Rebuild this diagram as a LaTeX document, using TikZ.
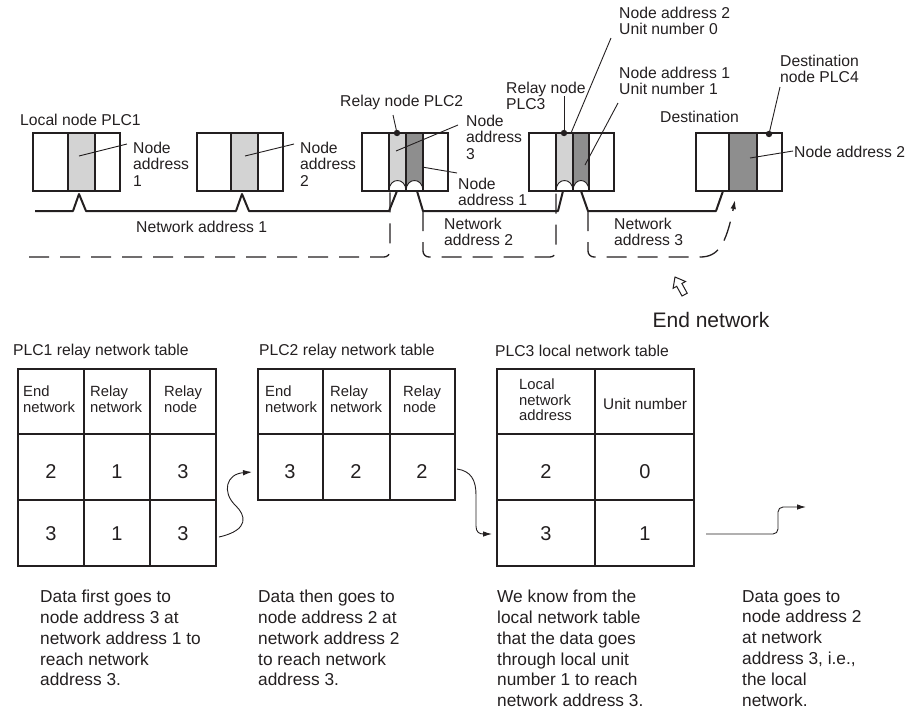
\documentclass[tikz,border=0pt]{standalone}
\usepackage{fontspec}
\setmainfont{Liberation Sans}
\usetikzlibrary{arrows.meta}
\definecolor{lg}{HTML}{D3D3D3}
\definecolor{dg}{HTML}{8E8E8E}
\definecolor{ink}{HTML}{231F20}
\begin{document}
\begin{tikzpicture}[x=1pt,y=-1pt,
  lab/.style={inner sep=0pt, anchor=west, align=left, text=ink, font=\fontsize{15.7}{16.5}\selectfont},
  bot/.style={inner sep=0pt, anchor=north west, align=left, text=ink, font=\fontsize{17.3}{20.8}\selectfont},
  hdr/.style={inner sep=0pt, anchor=west, align=left, text=ink, font=\fontsize{14.8}{15.6}\selectfont},
  num/.style={inner sep=0pt, text=ink, font=\fontsize{20}{24}\selectfont},
  box/.style={draw=ink, line width=1.2pt},
  net/.style={draw=ink, line width=2pt, line join=round},
  lead/.style={draw=ink, line width=0.9pt},
  route/.style={draw=ink, line width=1.3pt, dash pattern=on 20pt off 11pt, rounded corners=6pt},
  tbl/.style={draw=ink, line width=1.3pt},
  tip/.style={-{Latex[length=9pt,width=5.5pt]}},
  dot/.style={fill=ink}
]
\useasboundingbox (0,0) rectangle (916,716);

% ---------- PLC units ----------
% PLC1
\fill[lg] (68,133) rectangle (95,191);
\draw[box] (33,133) rectangle (120,191);
\draw[box] (68,133) -- (68,191) (95,133) -- (95,191);
% PLC (node address 2)
\fill[lg] (231,133) rectangle (258,191);
\draw[box] (197,133) rectangle (283,191);
\draw[box] (231,133) -- (231,191) (258,133) -- (258,191);
% Relay PLC2
\fill[lg] (389,133) rectangle (406,191);
\fill[dg] (406,133) rectangle (423,191);
\fill[white] (389,191) .. controls (389,177) and (406,177) .. (406,191) -- cycle;
\fill[white] (406,191) .. controls (406,177) and (423,177) .. (423,191) -- cycle;
\draw[box] (362,133) rectangle (448,191);
\draw[box] (389,133) -- (389,191) (406,133) -- (406,191) (423,133) -- (423,191);
\draw[lead] (389,191) .. controls (389,177) and (406,177) .. (406,191);
\draw[lead] (406,191) .. controls (406,177) and (423,177) .. (423,191);
% Relay PLC3
\fill[lg] (556,133) rectangle (573,191);
\fill[dg] (573,133) rectangle (589,191);
\fill[white] (556,191) .. controls (556,177) and (573,177) .. (573,191) -- cycle;
\fill[white] (573,191) .. controls (573,177) and (589,177) .. (589,191) -- cycle;
\draw[box] (529,133) rectangle (614,191);
\draw[box] (556,133) -- (556,191) (573,133) -- (573,191) (589,133) -- (589,191);
\draw[lead] (556,191) .. controls (556,177) and (573,177) .. (573,191);
\draw[lead] (573,191) .. controls (573,177) and (589,177) .. (589,191);
% Destination PLC4
\fill[dg] (729,133) rectangle (757,191);
\draw[box] (696,133) rectangle (782,191);
\draw[box] (729,133) -- (729,191) (757,133) -- (757,191);

% ---------- network lines ----------
\draw[net] (35,211) -- (73,211) -- (79,194) -- (86,211) -- (236,211) -- (242,194) -- (249,211) -- (389,211) -- (397,191);
\draw[net] (417,191) -- (423,211) -- (558,211) -- (563,191);
\draw[net] (581,191) -- (588,211) -- (716,211) -- (723,191);

% ---------- data route (dashed) ----------
\draw[route] (29,257) -- (390,257) -- (390,191);
\draw[route] (423,211) -- (423,257) -- (556,257) -- (556,191);
\draw[route] (588,211) -- (588,257) -- (700,257);
\draw[draw=ink, line width=1.3pt, dash pattern=on 20pt off 11pt, tip] (700,257) .. controls (718,257) and (726,245) .. (735,200);

% ---------- dots ----------
\fill[dot] (397,133) circle[radius=3.2pt];
\fill[dot] (564,133) circle[radius=3.2pt];
\fill[dot] (769,134) circle[radius=3.2pt];

% ---------- leaders ----------
\draw[lead] (79,156) -- (127,144);
\draw[lead] (245,156) -- (294,144);
\draw[lead] (393,115) -- (397,133);
\draw[lead] (396,151) -- (458,125);
\draw[lead] (422,167) -- (457,173);
\draw[lead] (564,96) -- (564,133);
\draw[lead] (571,133) -- (611,38);
\draw[lead] (585,165) -- (618,103);
\draw[lead] (769,134) -- (780,87);
\draw[lead] (750,158) -- (793,151);

% ---------- top labels ----------
\node[lab] (l1) at (20,120) {Local node PLC1};
\node[lab] (na1) at (133,164) {Node\\address\\1};
\node[lab] (na2) at (300,164) {Node\\address\\2};
\node[lab] (rp2) at (340,102) {Relay node PLC2};
\node[lab] (na3) at (466,137) {Node\\address\\3};
\node[lab] (na1b) at (458,192) {Node\\address 1};
\node[lab] (rp3) at (506,96) {Relay node\\PLC3};
\node[lab] (u0) at (619,21) {Node address 2\\Unit number 0};
\node[lab] (u1) at (619,81) {Node address 1\\Unit number 1};
\node[lab] (dn) at (780,69) {Destination\\node PLC4};
\node[lab] (dst) at (660,117) {Destination};
\node[lab] (na2d) at (794,152) {Node address 2};
\node[lab] (nw1) at (136,227) {Network address 1};
\node[lab] (nw2) at (444,232) {Network\\address 2};
\node[lab] (nw3) at (614,232) {Network\\address 3};

% ---------- End network arrow ----------
\draw[draw=ink, line width=1pt, line join=miter, fill=white]
  (675,277) -- (685.5,281.5) -- (681.9,283.5) -- (687.2,293.2) -- (682.0,296.0) -- (676.7,286.3) -- (673.1,288.3) -- cycle;
\node[inner sep=0pt, text=ink, font=\fontsize{21}{24}\selectfont] (en) at (711,320) {End network};

% ---------- tables ----------
\node[lab] (t1) at (13,351) {PLC1 relay network table};
\node[lab] (t2) at (259,351) {PLC2 relay network table};
\node[lab] (t3) at (495,351) {PLC3 local network table};

% table 1
\draw[tbl] (18,369) rectangle (216,566);
\draw[tbl] (84,369) -- (84,566) (150,369) -- (150,566) (18,434) -- (216,434) (18,500) -- (216,500);
\node[hdr] at (23,399) {End\\network};
\node[hdr] at (90,399) {Relay\\network};
\node[hdr] at (164,399) {Relay\\node};
\node[num] at (51,472) {2};
\node[num] at (117,472) {1};
\node[num] at (183,472) {3};
\node[num] at (51,534) {3};
\node[num] at (117,534) {1};
\node[num] at (183,534) {3};

% table 2
\draw[tbl] (258,369) rectangle (455,500);
\draw[tbl] (323,369) -- (323,500) (390,369) -- (390,500) (258,434) -- (455,434);
\node[hdr] at (265,399) {End\\network};
\node[hdr] at (330,399) {Relay\\network};
\node[hdr] at (403,399) {Relay\\node};
\node[num] at (290,472) {3};
\node[num] at (356,472) {2};
\node[num] at (422,472) {2};

% table 3
\draw[tbl] (497,369) rectangle (694,566);
\draw[tbl] (595,369) -- (595,566) (497,434) -- (694,434) (497,500) -- (694,500);
\node[hdr] at (519,400) {Local\\network\\address};
\node[hdr, font=\fontsize{15.4}{16}\selectfont] at (603,404) {Unit number};
\node[num] at (546,472) {2};
\node[num] at (645,472) {0};
\node[num] at (546,534) {3};
\node[num] at (645,534) {1};

% ---------- flow arrows between tables ----------
\draw[lead, tip] (219,537) .. controls (250,530) and (246,515) .. (235,505) .. controls (222,492) and (226,474) .. (252,472);
\draw[lead, tip] (457,469) .. controls (471,471) and (476,480) .. (476,495) -- (476,526) .. controls (476,532) and (479,534) .. (492,534);
\draw[lead, tip, rounded corners=5pt] (706,534) -- (778,534) -- (778,507) -- (806,507);

% ---------- bottom texts ----------
\node[bot] (b1) at (40,590) {Data first goes to\\node address 3 at\\network address 1 to\\reach network\\address 3.};
\node[bot] (b2) at (258,590) {Data then goes to\\node address 2 at\\network address 2\\to reach network\\address 3.};
\node[bot] (b3) at (497,590) {We know from the\\local network table\\that the data goes\\through local unit\\number 1 to reach\\network address 3.};
\node[bot] (b4) at (742,590) {Data goes to\\node address 2\\at network\\address 3, i.e.,\\the local\\network.};
\end{tikzpicture}
\end{document}
